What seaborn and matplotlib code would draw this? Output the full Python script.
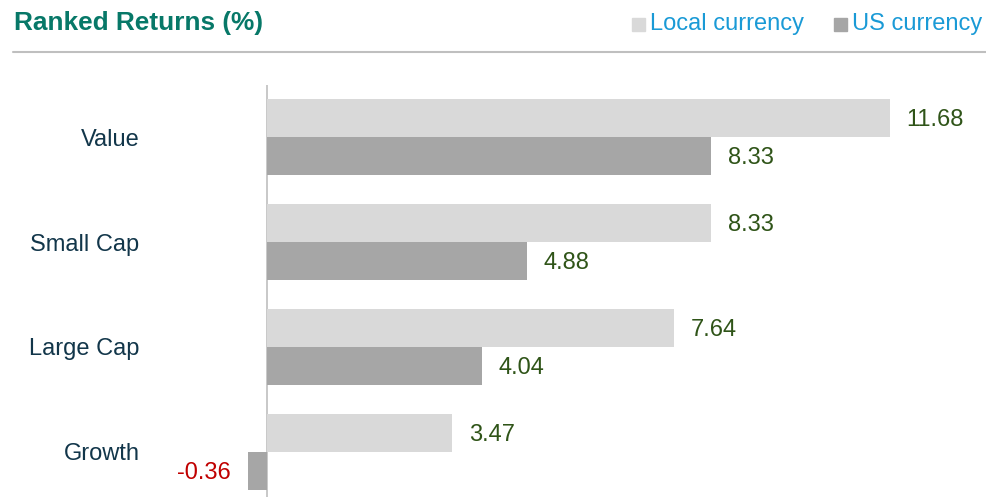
import matplotlib
matplotlib.use("Agg")
import matplotlib.pyplot as plt
import seaborn as sns
import pandas as pd
from matplotlib.patches import Rectangle

categories = ["Value", "Small Cap", "Large Cap", "Growth"]
local_currency = [11.68, 8.33, 7.64, 3.47]
us_currency = [8.33, 4.88, 4.04, -0.36]
series_names = ["Local currency", "US currency"]
title = "Ranked Returns (%)"

sns.set_style("white")
plt.rcParams["font.family"] = ["Liberation Sans", "DejaVu Sans"]

df = pd.DataFrame({
    "Category": categories * 2,
    "Return": local_currency + us_currency,
    "Currency": [series_names[0]] * 4 + [series_names[1]] * 4,
})

W, H = 986, 497
fig = plt.figure(figsize=(W / 100, H / 100), dpi=100)
ax_left, ax_top = 150, 85
ax = fig.add_axes([ax_left / W, 0, (W - ax_left) / W, (H - ax_top) / H])

colors = ["#d9d9d9", "#a6a6a6"]
sns.barplot(data=df, y="Category", x="Return", hue="Currency", orient="h",
            palette=colors, width=0.72, saturation=1, legend=False, ax=ax,
            order=categories, hue_order=series_names, linewidth=0)

ppu = 53.3
ax.set_xlim(-(267 - ax_left) / ppu, (W - 267) / ppu)
ax.set_ylim(3 + (497 - 452) / 105, -(137 - ax_top) / 105)
ax.axvline(0, color="#bfbfbf", lw=1.2, zorder=0)

for s in ax.spines.values():
    s.set_visible(False)
ax.set_xticks([])
ax.set_xlabel("")
ax.set_ylabel("")
ax.tick_params(axis="y", length=0, pad=7.5, labelsize=17, labelcolor="#12364a")

for cont in ax.containers:
    labels = ax.bar_label(cont, fmt="%.2f", padding=12, fontsize=17, color="#2f5418")
    for lab, bar in zip(labels, cont):
        x_off, y_off = lab.xyann
        lab.xyann = (x_off, y_off - 1.5)
        if bar.get_width() < 0:
            lab.set_color("#c00000")

# header
fig.text(14 / W, 1 - 23 / H, title, fontsize=18.9, fontweight="bold",
         color="#077868", va="center", ha="left")
fig.add_artist(plt.Line2D([13 / W, 1], [1 - 52 / H, 1 - 52 / H], color="#bfbfbf",
                          lw=1.5, transform=fig.transFigure))

# legend
leg_items = [(632, 650, series_names[0], colors[0]), (834, 852, series_names[1], colors[1])]
for sx, tx, name, c in leg_items:
    fig.add_artist(Rectangle((sx / W, 1 - 31 / H), 13 / W, 13 / H, color=c,
                             transform=fig.transFigure))
    fig.text(tx / W, 1 - 24 / H, name, fontsize=17, color="#1a9ad6",
             va="center", ha="left")

fig.savefig("out.png", dpi=100)
